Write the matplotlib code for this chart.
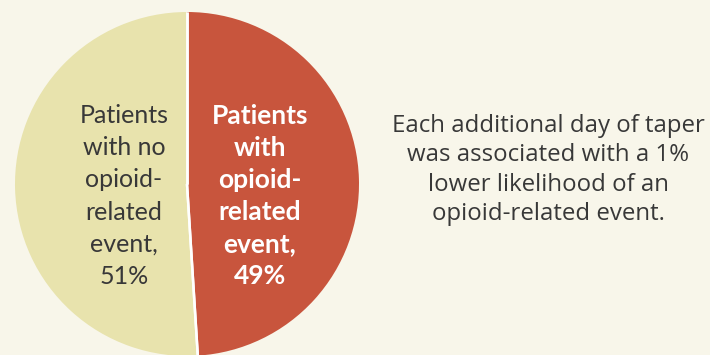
import matplotlib
matplotlib.use("Agg")
import matplotlib.pyplot as plt
import numpy as np

# Share of patients by outcome
categories = ["Patients\nwith\nopioid-\nrelated\nevent,\n49%",
              "Patients\nwith no\nopioid-\nrelated\nevent,\n51%"]
shares = [49, 51]
note = ("Each additional day of taper\nwas associated with a 1%\n"
        "lower likelihood of an\nopioid-related event.")

BG = "#f8f6ea"
RED = "#c8553d"
YELLOW = "#e8e3ad"

fig = plt.figure(figsize=(7.1, 3.55), dpi=100, facecolor=BG)
ax = fig.add_axes([0, 0, 1, 1])
ax.set_facecolor(BG)

wedges, _ = ax.pie(shares, startangle=90, counterclock=False,
                   center=(187, 171), radius=172, colors=[RED, YELLOW],
                   wedgeprops=dict(linewidth=0))
# white separators along the radial edges only
for w in wedges:
    cx, cy = w.center
    for ang in (w.theta1, w.theta2):
        a = np.deg2rad(ang)
        ax.plot([cx, cx + w.r * np.cos(a)], [cy, cy + w.r * np.sin(a)],
                color="white", lw=1.8, solid_capstyle="butt")
ax.set_xlim(0, 710)
ax.set_ylim(0, 355)
ax.set_aspect("equal")
ax.axis("off")

ax.text(260, 159, categories[0], ha="center", va="center",
        fontsize=19, fontweight="bold", color="white",
        family="Lato", linespacing=1.40)
ax.text(124, 159, categories[1], ha="center", va="center",
        fontsize=18, color="#383838", family="Lato", linespacing=1.49)
ax.text(548, 185, note, ha="center", va="center",
        fontsize=17.3, color="#383838", family="Open Sans", linespacing=1.28)

fig.savefig("out.png", dpi=100, facecolor=BG)
